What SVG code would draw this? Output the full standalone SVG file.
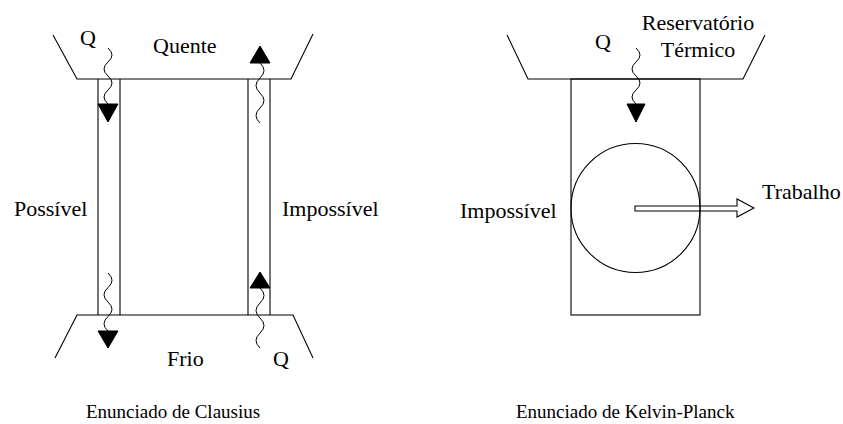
<svg xmlns="http://www.w3.org/2000/svg" width="843" height="424" viewBox="0 0 843 424">
<style>
.ln{fill:none;stroke:#000;stroke-width:1.1}
.wv{fill:none;stroke:#000;stroke-width:1}
.ah{fill:#000;stroke:#000;stroke-width:1}
.t{font-family:"Liberation Serif","Times New Roman",serif;font-size:22px;fill:#000}
.c{font-family:"Liberation Serif","Times New Roman",serif;font-size:19px;fill:#000}
</style>
<rect width="843" height="424" fill="#fff"/>
<g id="clausius">
  <g id="hot-reservoir"><polyline class="ln" points="53,35 77,79 291,79 313,34"/></g>
  <g id="cold-reservoir"><polyline class="ln" points="55,358 77,315 293,315 313,358"/></g>
  <g id="tube-left"><line class="ln" x1="98" y1="79" x2="98" y2="315"/><line class="ln" x1="120" y1="79" x2="120" y2="315"/></g>
  <g id="tube-right"><line class="ln" x1="248" y1="79" x2="248" y2="315"/><line class="ln" x1="270" y1="79" x2="270" y2="315"/></g>
  <text class="t" x="80" y="45">Q</text>
  <text class="t" x="153" y="53">Quente</text>
  <text class="t" x="14" y="216">Possível</text>
  <text class="t" x="282" y="216">Impossível</text>
  <text class="t" x="167" y="366">Frio</text>
  <text class="t" x="273" y="366">Q</text>
  <text class="c" x="86" y="418">Enunciado de Clausius</text>
</g>
<g id="kelvin">
  <g id="reservoir"><polyline class="ln" points="507,35 528,79 743,79 765,35"/></g>
  <g id="engine"><rect class="ln" x="571" y="79" width="129" height="236"/><circle class="ln" cx="635.5" cy="208" r="64.5"/></g>
  <text class="t" x="595" y="49">Q</text>
  <text class="t" x="698" y="30" text-anchor="middle">Reservatório</text>
  <text class="t" x="698" y="57" text-anchor="middle">Térmico</text>
  <text class="t" x="460" y="218">Impossível</text>
  <text class="t" x="762" y="199">Trabalho</text>
  <text class="c" x="516" y="418">Enunciado de Kelvin-Planck</text>
</g>
<g id="connectors">
  <path class="wv" d="M108,48 q8,7 0,14 t0,14 t0,14 t0,14"/>
  <polygon class="ah" points="98,104 118,104 108,122"/>
  <path class="wv" d="M260,123 q-8,-7.5 0,-15 t0,-15 t0,-15 t0,-15"/>
  <polygon class="ah" points="250,63 270,63 260,46"/>
  <path class="wv" d="M108,273 q8,7.25 0,14.5 t0,14.5 t0,14.5 t0,14.5"/>
  <polygon class="ah" points="98,331 118,331 108,348"/>
  <path class="wv" d="M260,348 q-8,-7.5 0,-15 t0,-15 t0,-15 t0,-15"/>
  <polygon class="ah" points="250,288 270,288 260,272"/>
  <path class="wv" d="M636,48 q8,7 0,14 t0,14 t0,14 t0,14"/>
  <polygon class="ah" points="627,104 645,104 636,122"/>
  <polygon class="ln" points="635,206 737,206 737,199 754,208 737,217 737,211 635,211"/>
</g>
</svg>
